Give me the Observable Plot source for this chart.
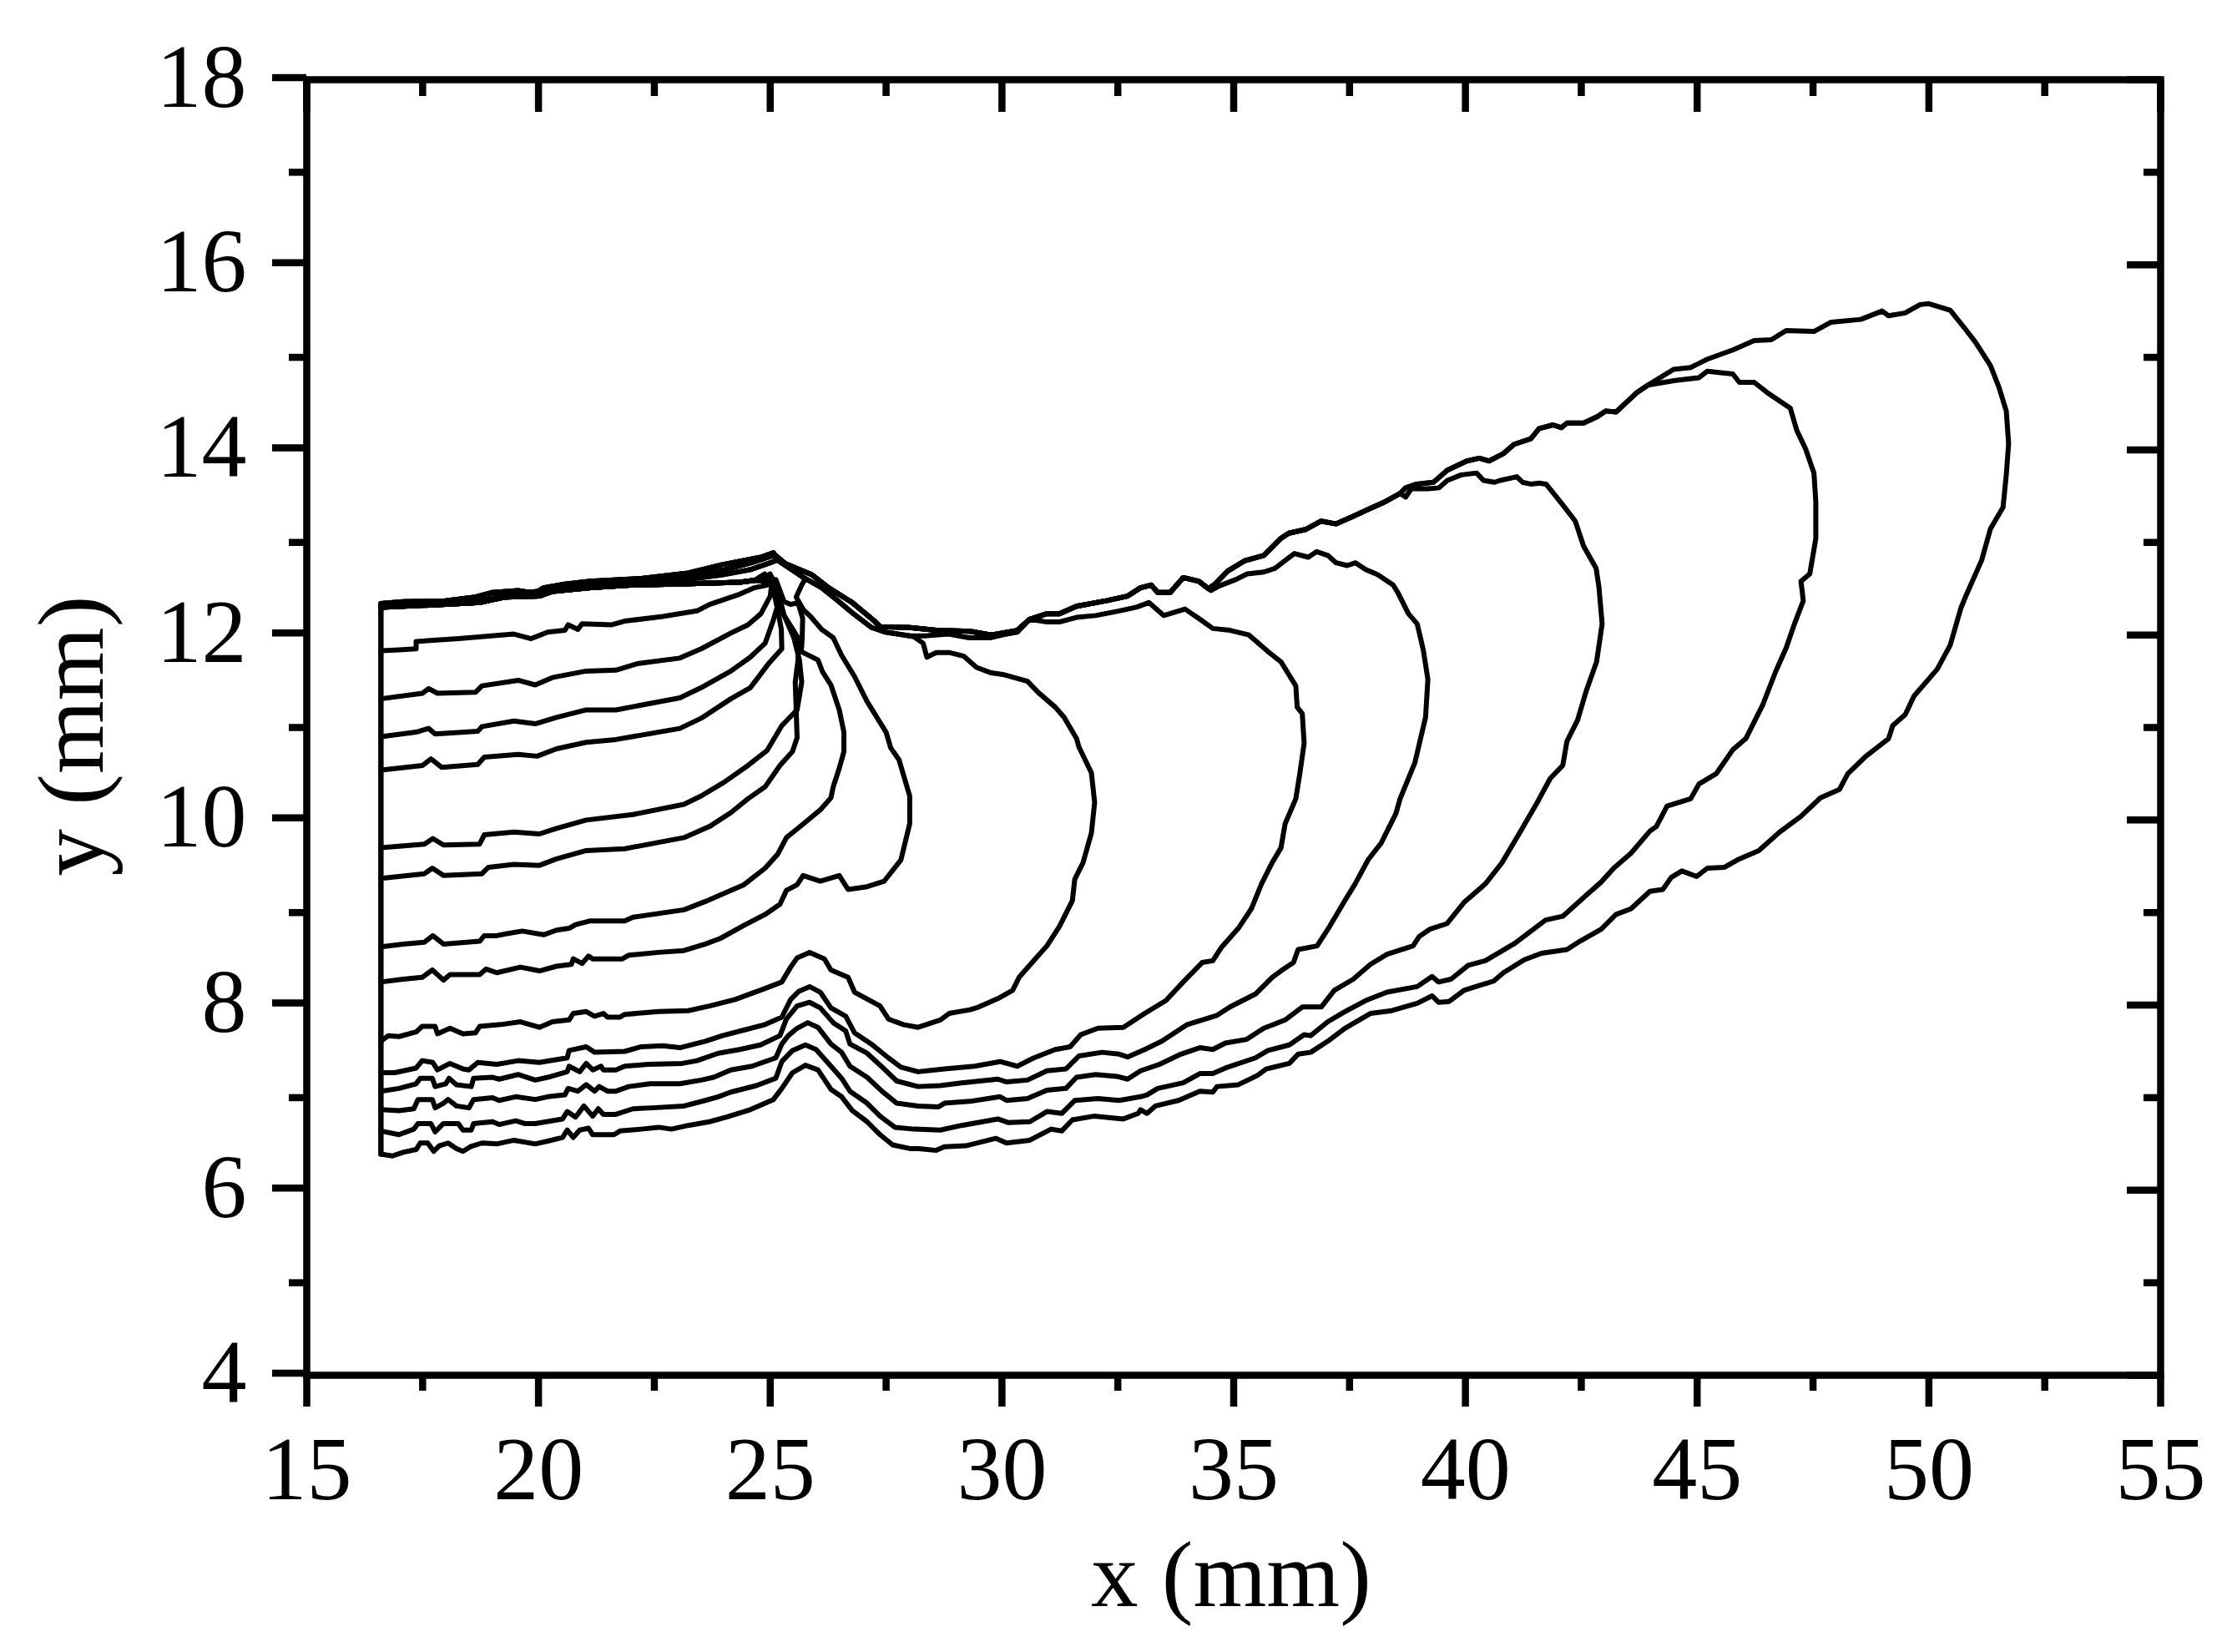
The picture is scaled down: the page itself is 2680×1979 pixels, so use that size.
<!DOCTYPE html>
<html>
<head>
<meta charset="utf-8">
<script src="https://cdn.jsdelivr.net/npm/d3@7"></script>
<script src="https://cdn.jsdelivr.net/npm/@observablehq/plot@0.6"></script>
<style>
  html, body { margin: 0; padding: 0; background: white; }
  svg { display: block; }
</style>
</head>
<body>
<div id="chart"></div>
<script>
// tick positions
const xMajor = [15, 20, 25, 30, 35, 40, 45, 50, 55];
const xMinor = [17.5, 22.5, 27.5, 32.5, 37.5, 42.5, 47.5, 52.5];
const yMajor = [4, 6, 8, 10, 12, 14, 16, 18];
const yMinor = [5, 7, 9, 11, 13, 15, 17];

// left wall shared by every contour
const wall = [[16.6, 12.33], [16.6, 6.39]];

// shared upper edge, tip back to the wall
const ridgeUpper = [[43.94,14.70],[43.70,14.62],[43.51,14.53],[43.25,14.41],[43.03,14.42],[42.85,14.36],[42.55,14.29],[42.19,14.29],[42.07,14.24],[41.89,14.27],[41.59,14.23],[41.41,14.12],[41.05,14.06],[40.82,13.96],[40.51,13.88],[40.30,13.91],[40.03,13.88],[39.61,13.78],[39.31,13.65],[38.95,13.63],[38.71,13.59],[38.59,13.53],[38.23,13.43],[37.87,13.35],[37.57,13.28],[37.21,13.20],[36.88,13.23],[36.55,13.14],[36.19,13.10],[36.01,13.04],[35.65,12.86],[35.23,12.80],[34.87,12.69],[34.60,12.55],[34.45,12.50],[34.25,12.58],[33.91,12.62],[33.63,12.46],[33.36,12.46],[33.22,12.54],[32.99,12.51],[32.71,12.42],[32.25,12.37],[31.61,12.31],[31.24,12.23],[30.97,12.23],[30.60,12.17],[30.33,12.05],[29.77,12.00],[29.31,12.04],[28.58,12.05],[28.01,12.08],[27.37,12.09],[27.25,12.15],[26.77,12.35],[26.26,12.51],[25.90,12.65],[25.33,12.77],[25.09,12.87]];
const ridgeLower = [[30.33,12.03],[30.01,12.00],[29.75,11.97],[29.29,11.97],[28.85,12.01],[28.33,11.99],[28.01,11.99],[27.49,12.03],[27.19,12.08],[26.77,12.24],[26.41,12.39],[26.11,12.51],[25.69,12.63],[25.15,12.81]];
const leftUpper = [[25.07,12.89],[24.80,12.84],[23.97,12.76],[23.23,12.67],[22.22,12.61],[21.12,12.58],[20.57,12.55],[20.11,12.51],[19.93,12.45],[19.56,12.48],[19.01,12.46],[18.64,12.41],[17.99,12.37],[17.08,12.36],[16.60,12.34]];
const leftMidA = [[25.07,12.86],[24.60,12.78],[23.97,12.70],[23.23,12.63],[22.22,12.60],[21.12,12.56],[20.11,12.48],[19.29,12.43],[18.73,12.37],[17.99,12.35],[17.08,12.33],[16.60,12.32]];
const leftMidB = [[25.00,12.78],[24.60,12.71],[23.97,12.65],[23.23,12.60],[22.22,12.58],[21.12,12.54],[20.30,12.49],[19.29,12.42],[18.73,12.36],[17.99,12.34],[17.08,12.32],[16.60,12.31]];
const leftLower = [[24.66,12.59],[24.34,12.57],[22.96,12.55],[22.04,12.54],[21.12,12.51],[20.30,12.47],[20.02,12.42],[19.29,12.41],[18.73,12.35],[17.99,12.33],[17.08,12.31],[16.60,12.30]];

// contour fronts, from the wall out to where they meet the upper edge
const front1 = [[16.60,6.39],[16.85,6.37],[17.08,6.41],[17.36,6.44],[17.45,6.51],[17.61,6.51],[17.74,6.42],[17.86,6.48],[18.05,6.51],[18.23,6.45],[18.37,6.42],[18.53,6.47],[18.78,6.51],[19.10,6.50],[19.47,6.54],[19.93,6.50],[20.20,6.53],[20.52,6.57],[20.62,6.65],[20.75,6.57],[20.89,6.65],[21.08,6.67],[21.17,6.60],[21.63,6.60],[21.76,6.64],[22.22,6.66],[22.59,6.68],[22.87,6.66],[23.23,6.70],[23.69,6.74],[24.06,6.79],[24.57,6.87],[25.07,6.98],[25.25,7.10],[25.48,7.27],[25.76,7.35],[26.03,7.30],[26.31,7.09],[26.54,7.01],[26.77,6.86],[27.09,6.74],[27.37,6.60],[27.64,6.49],[28.01,6.45],[28.21,6.45],[28.58,6.43],[28.76,6.47],[29.22,6.48],[29.87,6.56],[30.10,6.51],[30.60,6.54],[31.06,6.66],[31.29,6.64],[31.52,6.76],[31.98,6.80],[32.62,6.77],[32.94,6.83],[32.99,6.87],[33.13,6.83],[33.31,6.91],[33.81,6.97],[34.27,7.07],[34.55,7.06],[34.64,7.12],[35.10,7.14],[35.51,7.24],[35.70,7.31],[36.20,7.37],[36.39,7.47],[36.66,7.49],[37.03,7.61],[37.40,7.75],[37.95,7.91],[38.41,7.94],[38.96,8.02],[39.28,8.10],[39.42,8.03],[39.65,8.04],[39.97,8.16],[40.61,8.26],[40.82,8.35],[41.27,8.49],[41.64,8.56],[42.19,8.60],[42.47,8.69],[42.93,8.82],[43.25,8.98],[43.57,9.04],[43.98,9.23],[44.26,9.25],[44.44,9.38],[44.67,9.45],[44.99,9.39],[45.22,9.48],[45.59,9.49],[45.87,9.57],[46.33,9.67],[46.78,9.87],[47.24,10.04],[47.66,10.24],[48.07,10.33],[48.25,10.50],[48.62,10.68],[49.13,10.88],[49.22,11.02],[49.49,11.14],[49.68,11.34],[50.18,11.63],[50.46,11.89],[50.69,12.29],[50.78,12.40],[51.14,12.81],[51.33,13.15],[51.60,13.38],[51.67,13.73],[51.72,14.07],[51.67,14.42],[51.51,14.68],[51.33,14.91],[51.01,15.16],[50.78,15.31],[50.46,15.51],[50.00,15.58],[49.81,15.57],[49.49,15.48],[49.13,15.45],[48.99,15.50],[48.53,15.41],[47.89,15.38],[47.52,15.28],[46.92,15.29],[46.60,15.19],[46.23,15.18],[45.77,15.08],[45.22,14.98],[44.86,14.89],[44.49,14.87]];
const front2 = [[16.60,6.64],[16.99,6.60],[17.31,6.66],[17.40,6.72],[17.68,6.72],[17.77,6.63],[17.95,6.72],[18.27,6.72],[18.37,6.65],[18.55,6.65],[18.60,6.72],[19.01,6.74],[19.15,6.71],[19.51,6.75],[19.70,6.72],[19.93,6.72],[20.52,6.77],[20.62,6.85],[20.80,6.79],[20.98,6.91],[21.17,6.80],[21.29,6.88],[21.40,6.82],[21.67,6.82],[22.04,6.88],[22.45,6.89],[23.14,6.91],[23.60,6.97],[23.88,7.01],[24.15,7.06],[24.70,7.13],[25.12,7.21],[25.25,7.39],[25.48,7.51],[25.76,7.57],[25.99,7.52],[26.31,7.34],[26.54,7.21],[26.72,7.07],[27.09,6.94],[27.37,6.80],[27.69,6.68],[28.10,6.66],[28.67,6.65],[29.13,6.70],[29.91,6.77],[30.14,6.73],[30.60,6.74],[30.97,6.85],[31.29,6.83],[31.57,6.97],[32.07,6.99],[32.53,6.97],[32.99,7.01],[33.13,7.03],[33.36,7.10],[33.91,7.16],[34.27,7.26],[34.55,7.26],[34.82,7.32],[35.47,7.43],[35.74,7.51],[36.20,7.57],[36.52,7.68],[36.66,7.67],[37.03,7.82],[37.40,7.93],[37.85,8.05],[38.31,8.14],[38.96,8.20],[39.28,8.31],[39.42,8.25],[39.69,8.28],[40.06,8.43],[40.43,8.48],[41.07,8.67],[41.73,8.92],[42.10,8.96],[42.61,9.19],[42.93,9.33],[43.20,9.48],[43.57,9.64],[43.98,9.88],[44.12,9.93],[44.35,10.15],[44.86,10.23],[45.04,10.39],[45.41,10.50],[45.77,10.76],[46.05,10.88],[46.42,11.25],[46.69,11.60],[46.92,11.86],[47.10,12.12],[47.29,12.37],[47.24,12.58],[47.43,12.66],[47.56,13.04],[47.56,13.44],[47.52,13.75],[47.34,14.01],[47.15,14.21],[47.01,14.45],[46.51,14.62],[46.23,14.73],[45.91,14.73],[45.77,14.82],[45.22,14.85],[45.04,14.78],[44.53,14.75]];
const front3 = [[16.60,6.87],[16.99,6.86],[17.31,6.88],[17.40,6.98],[17.71,6.98],[17.77,6.89],[17.95,6.94],[18.05,6.98],[18.23,6.91],[18.50,6.89],[18.60,6.98],[19.01,7.00],[19.15,6.97],[19.51,7.01],[19.93,6.98],[20.20,7.01],[20.57,7.03],[20.64,7.10],[20.85,7.07],[21.03,7.14],[21.21,7.07],[21.31,7.12],[21.49,7.07],[21.67,7.07],[21.95,7.12],[22.41,7.15],[23.05,7.15],[23.51,7.19],[23.78,7.22],[24.15,7.30],[24.61,7.34],[25.12,7.43],[25.25,7.58],[25.39,7.67],[25.58,7.75],[25.81,7.81],[26.03,7.76],[26.31,7.58],[26.54,7.49],[26.72,7.34],[27.09,7.22],[27.41,7.07],[27.73,6.94],[28.19,6.91],[28.63,6.90],[28.76,6.94],[29.31,6.96],[29.96,7.01],[30.10,6.97],[30.55,6.99],[30.97,7.08],[31.38,7.10],[31.61,7.22],[32.02,7.25],[32.48,7.23],[32.71,7.20],[32.99,7.29],[33.40,7.36],[33.86,7.47],[34.27,7.54],[34.55,7.52],[34.82,7.59],[35.28,7.63],[35.65,7.75],[36.11,7.84],[36.48,7.98],[36.89,7.98],[37.17,8.16],[37.58,8.28],[37.95,8.44],[38.31,8.55],[38.87,8.64],[39.00,8.74],[39.23,8.82],[39.60,8.88],[39.97,9.11],[40.43,9.31],[40.79,9.54],[41.18,9.87],[41.55,10.19],[41.83,10.45],[42.10,10.59],[42.19,10.85],[42.42,11.08],[42.61,11.40],[42.83,11.71],[42.95,12.12],[42.88,12.52],[42.82,12.72],[42.55,12.96],[42.37,13.23],[42.14,13.38],[41.95,13.50],[41.74,13.63],[41.59,13.64],[41.41,13.63],[41.23,13.65],[41.11,13.71],[40.75,13.67],[40.63,13.65],[40.39,13.67],[40.24,13.75],[39.91,13.73],[39.61,13.67],[39.43,13.59],[39.19,13.58],[38.83,13.58],[38.71,13.49]];
const front4 = [[16.60,7.07],[16.99,7.10],[17.36,7.15],[17.45,7.21],[17.71,7.21],[17.77,7.12],[18.00,7.15],[18.07,7.21],[18.23,7.14],[18.55,7.12],[18.60,7.21],[19.01,7.22],[19.15,7.20],[19.56,7.25],[19.93,7.19],[20.20,7.22],[20.62,7.28],[20.66,7.34],[20.89,7.28],[21.03,7.37],[21.17,7.30],[21.35,7.34],[21.40,7.30],[21.67,7.30],[21.86,7.34],[22.36,7.36],[23.10,7.37],[23.42,7.40],[23.88,7.48],[24.34,7.52],[24.79,7.57],[25.21,7.67],[25.35,7.85],[25.58,7.99],[25.85,8.03],[26.08,7.97],[26.36,7.81],[26.63,7.72],[26.72,7.58],[27.09,7.48],[27.46,7.31],[27.73,7.18],[28.19,7.12],[28.67,7.13],[29.13,7.16],[29.91,7.20],[30.10,7.17],[30.55,7.19],[30.97,7.29],[31.38,7.31],[31.66,7.45],[32.16,7.49],[32.53,7.47],[32.71,7.44],[33.08,7.52],[33.45,7.61],[34.00,7.79],[34.64,7.89],[34.92,7.98],[35.47,8.12],[35.83,8.30],[36.02,8.37],[36.29,8.46],[36.39,8.60],[36.80,8.64],[37.07,8.85],[37.40,9.13],[37.62,9.31],[37.90,9.57],[38.18,9.75],[38.50,10.07],[38.59,10.23],[38.91,10.62],[39.14,11.11],[39.19,11.52],[39.09,11.84],[38.96,12.12],[38.77,12.23],[38.54,12.46],[38.44,12.54],[38.11,12.65],[37.84,12.71],[37.63,12.78],[37.45,12.75],[37.21,12.78],[37.03,12.86],[36.79,12.90],[36.61,12.84],[36.31,12.88],[36.10,12.80],[35.89,12.72],[35.65,12.68],[35.29,12.66],[35.05,12.60],[34.69,12.53],[34.51,12.48]];
const front5 = [[16.60,7.27],[16.90,7.27],[17.36,7.32],[17.49,7.40],[17.72,7.38],[17.82,7.30],[18.09,7.37],[18.37,7.31],[18.50,7.30],[18.69,7.38],[19.10,7.36],[19.56,7.40],[20.02,7.38],[20.62,7.43],[20.66,7.51],[21.03,7.55],[21.21,7.49],[21.86,7.50],[22.22,7.55],[22.68,7.56],[23.05,7.54],[23.60,7.61],[23.97,7.67],[24.43,7.73],[24.89,7.79],[25.25,7.87],[25.44,8.06],[25.62,8.15],[25.85,8.20],[26.08,8.14],[26.31,7.97],[26.63,7.88],[26.82,7.70],[27.18,7.58],[27.55,7.43],[27.82,7.33],[28.19,7.28],[28.76,7.31],[29.41,7.34],[29.96,7.39],[30.33,7.34],[30.69,7.43],[31.15,7.52],[31.47,7.55],[31.70,7.68],[32.07,7.75],[32.62,7.76],[33.08,7.91],[33.54,8.05],[33.91,8.25],[34.32,8.46],[34.55,8.48],[34.73,8.62],[35.10,8.83],[35.38,9.04],[35.60,9.31],[35.83,9.54],[36.02,9.70],[36.11,9.96],[36.34,10.23],[36.43,10.51],[36.52,10.83],[36.48,11.15],[36.37,11.22],[36.34,11.45],[36.02,11.71],[35.74,11.82],[35.33,12.00],[34.92,12.05],[34.55,12.07],[34.27,12.17],[33.95,12.28],[33.49,12.21],[33.17,12.35],[32.90,12.30],[32.53,12.26],[32.02,12.21],[31.61,12.19],[31.24,12.14],[30.97,12.14],[30.60,12.17]];
const front6 = [[16.60,7.61],[16.76,7.67],[16.99,7.66],[17.36,7.71],[17.49,7.77],[17.77,7.77],[17.82,7.69],[18.09,7.75],[18.37,7.69],[18.64,7.70],[18.73,7.77],[19.19,7.79],[19.61,7.82],[20.02,7.76],[20.30,7.82],[20.66,7.84],[20.75,7.91],[21.03,7.93],[21.21,7.88],[21.40,7.91],[21.49,7.87],[21.76,7.87],[21.86,7.90],[22.59,7.93],[23.23,7.94],[23.69,7.99],[24.24,8.06],[24.89,8.18],[25.25,8.25],[25.44,8.41],[25.58,8.51],[25.85,8.57],[26.17,8.50],[26.31,8.38],[26.68,8.30],[26.82,8.14],[27.37,7.99],[27.55,7.85],[27.87,7.79],[28.19,7.76],[28.67,7.84],[28.86,7.91],[29.31,7.95],[29.50,7.98],[29.91,8.07],[30.23,8.16],[30.37,8.30],[30.65,8.46],[30.97,8.64],[31.24,8.85],[31.52,9.13],[31.57,9.36],[31.75,9.54],[31.93,9.86],[32.00,10.19],[31.93,10.51],[31.66,10.79],[31.61,10.88],[31.34,11.11],[31.15,11.22],[30.78,11.38],[30.55,11.50],[30.05,11.57],[29.77,11.59],[29.45,11.65],[29.18,11.77],[28.86,11.81],[28.58,11.81],[28.38,11.76],[28.30,11.91],[28.10,11.98]];
const front7 = [[16.60,8.25],[17.08,8.28],[17.49,8.30],[17.71,8.38],[17.95,8.27],[18.09,8.33],[18.73,8.33],[18.87,8.39],[19.10,8.35],[19.61,8.41],[20.02,8.37],[20.39,8.42],[20.71,8.44],[20.75,8.50],[20.94,8.45],[21.08,8.53],[21.17,8.50],[21.81,8.50],[21.95,8.54],[22.59,8.57],[23.14,8.59],[23.60,8.66],[23.92,8.72],[24.43,8.86],[24.89,8.98],[25.21,9.09],[25.35,9.24],[25.58,9.30],[25.71,9.40],[26.08,9.34],[26.49,9.40],[26.68,9.25],[27.09,9.28],[27.46,9.34],[27.82,9.57],[28.01,9.96],[28.01,10.26],[27.78,10.65],[27.60,10.78],[27.50,10.95],[27.09,11.28],[26.82,11.55],[26.54,11.78],[26.36,11.97],[26.11,12.06],[25.87,12.20],[25.72,12.27],[25.56,12.41],[25.68,12.54],[25.75,12.60]];
const front8 = [[16.60,8.63],[17.08,8.66],[17.54,8.68],[17.72,8.75],[17.95,8.66],[18.73,8.69],[18.83,8.75],[19.10,8.75],[19.29,8.77],[19.65,8.80],[20.11,8.76],[20.39,8.81],[20.66,8.83],[20.80,8.87],[21.12,8.91],[21.86,8.91],[22.04,8.95],[23.14,9.03],[23.60,9.12],[23.92,9.19],[24.43,9.30],[24.89,9.48],[25.16,9.63],[25.35,9.81],[25.67,9.94],[26.08,10.11],[26.31,10.24],[26.36,10.36],[26.49,10.56],[26.59,10.74],[26.59,10.95],[26.49,11.19],[26.31,11.46],[26.13,11.60],[26.03,11.73],[25.67,11.82],[25.69,11.97],[25.70,12.18],[25.60,12.35],[25.44,12.33],[25.30,12.36],[25.12,12.60]];
const front9 = [[16.60,9.37],[17.54,9.42],[17.71,9.48],[17.95,9.40],[18.78,9.42],[18.92,9.49],[19.47,9.52],[20.02,9.51],[20.39,9.58],[21.03,9.67],[21.86,9.69],[23.14,9.81],[23.69,9.93],[24.15,10.08],[24.52,10.23],[24.89,10.36],[25.21,10.59],[25.48,10.74],[25.58,10.89],[25.56,11.19],[25.54,11.49],[25.60,11.73],[25.60,11.97],[25.45,12.09],[25.30,12.21],[25.12,12.45],[25.00,12.66]];
const front10 = [[16.60,9.70],[17.54,9.74],[17.72,9.80],[17.95,9.73],[18.73,9.74],[18.83,9.84],[19.47,9.87],[20.02,9.85],[20.39,9.91],[21.03,10.00],[22.04,10.06],[23.14,10.17],[23.51,10.26],[24.01,10.41],[24.52,10.59],[24.93,10.75],[25.25,11.02],[25.58,11.19],[25.63,11.34],[25.68,11.49],[25.63,11.73],[25.51,11.97],[25.30,12.21],[25.21,12.39],[25.03,12.63]];
const front11 = [[16.60,10.54],[17.50,10.59],[17.68,10.66],[17.91,10.57],[18.69,10.60],[18.83,10.68],[19.56,10.71],[19.97,10.69],[20.39,10.77],[21.03,10.84],[21.67,10.87],[23.05,10.99],[23.51,11.10],[24.15,11.31],[24.57,11.43],[24.98,11.70],[25.25,11.85],[25.24,12.06],[25.15,12.30],[25.06,12.60]];
const front12 = [[16.60,10.90],[17.36,10.95],[17.63,10.99],[17.77,10.93],[18.69,10.96],[18.78,11.01],[19.47,11.07],[19.93,11.04],[20.39,11.11],[21.03,11.19],[21.67,11.19],[23.05,11.32],[23.51,11.43],[24.15,11.61],[24.57,11.76],[24.89,11.91],[25.06,12.15],[25.15,12.30],[25.03,12.57]];
const front13 = [[16.60,11.31],[17.50,11.37],[17.63,11.42],[17.82,11.37],[18.64,11.38],[18.78,11.45],[19.56,11.51],[19.93,11.46],[20.30,11.54],[21.03,11.61],[21.67,11.62],[22.13,11.69],[23.05,11.75],[23.51,11.85],[24.15,12.02],[24.52,12.11],[24.80,12.23],[25.00,12.42],[25.03,12.54],[24.88,12.66]];
const front14 = [[16.60,11.83],[16.99,11.84],[17.36,11.85],[17.36,11.93],[18.28,11.96],[19.47,12.01],[19.84,11.96],[20.20,12.03],[20.57,12.05],[20.64,12.11],[20.85,12.06],[20.94,12.12],[21.58,12.11],[21.86,12.15],[22.68,12.20],[23.42,12.26],[23.69,12.33],[24.34,12.44],[24.66,12.51],[24.94,12.54],[24.75,12.60]];

const below = (path, xMax) => path.filter(p => p[0] < xMax);

const contours = [
  [...front1, ...ridgeUpper, ...leftUpper],
  [...front2, ...ridgeUpper, ...leftUpper],
  [...front3, ...below(ridgeUpper, 38.6), ...leftUpper],
  [...front4, ...below(ridgeUpper, 34.4), ...leftMidA],
  [...front5, ...ridgeLower, ...leftMidA],
  [...front6, ...below(ridgeLower, 28.05), ...leftMidB],
  [...front7, ...below(ridgeLower, 25.7), ...leftMidB],
  [...front8, ...leftLower],
  [...front9, ...leftLower],
  [...front10, ...leftLower],
  [...front11, ...leftLower],
  [...front12, ...leftLower],
  [...front13, ...leftLower],
  [...front14, ...leftLower]
];

let rows = [];
contours.forEach((path, i) => {
  path.forEach(p => rows.push({x: p[0], y: p[1], contour: i}));
});

const serif = "Liberation Serif, Times New Roman, serif";
const labelSize = 108;
const titleSize = 113;
const tickWidth = 8.5;

const plot = Plot.plot({
  width: 2680,
  height: 1979,
  marginLeft: 367,
  marginRight: 92,
  marginTop: 95,
  marginBottom: 332,
  style: {background: "white", color: "black", fontFamily: serif},
  x: {domain: [15, 55], axis: null},
  y: {domain: [4, 18], axis: null},
  marks: [
    Plot.line(wall, {x: d => d[0], y: d => d[1], stroke: "black", strokeWidth: 6.5}),
    Plot.line(rows, {x: "x", y: "y", z: "contour", stroke: "black", strokeWidth: 6, strokeLinejoin: "round"}),

    // outer ticks with labels on the bottom and left
    Plot.axisX(xMajor, {anchor: "bottom", tickSize: 38, tickPadding: 34, strokeWidth: tickWidth, tickFormat: "d", fontSize: labelSize, fontFamily: serif, label: null}),
    Plot.axisX(xMinor, {anchor: "bottom", tickSize: 19, strokeWidth: tickWidth, tickFormat: () => "", label: null}),
    Plot.axisY(yMajor, {anchor: "left", tickSize: 41, tickPadding: 31, strokeWidth: tickWidth, tickFormat: "d", fontSize: labelSize, fontFamily: serif, dy: -2.5, label: null}),
    Plot.axisY(yMinor, {anchor: "left", tickSize: 21, strokeWidth: tickWidth, tickFormat: () => "", label: null}),

    // inner ticks on the top and right
    Plot.axisX(xMajor, {anchor: "top", tickSize: -38, strokeWidth: tickWidth, tickFormat: () => "", label: null}),
    Plot.axisX(xMinor, {anchor: "top", tickSize: -19, strokeWidth: tickWidth, tickFormat: () => "", label: null}),
    Plot.axisY(yMajor, {anchor: "right", tickSize: -41, strokeWidth: tickWidth, tickFormat: () => "", label: null}),
    Plot.axisY(yMinor, {anchor: "right", tickSize: -21, strokeWidth: tickWidth, tickFormat: () => "", label: null}),

    Plot.frame({stroke: "black", strokeWidth: 8.5}),

    Plot.text(["x (mm)"], {frameAnchor: "bottom", lineAnchor: "middle", dx: -3, dy: 240, fontSize: titleSize, fontFamily: serif, fill: "black"}),
    Plot.text(["y (mm)"], {frameAnchor: "left", textAnchor: "middle", lineAnchor: "middle", rotate: -90, dx: -281, dy: 10, fontSize: titleSize, fontFamily: serif, fill: "black"})
  ]
});

document.querySelector("#chart").append(plot);
</script>
</body>
</html>
